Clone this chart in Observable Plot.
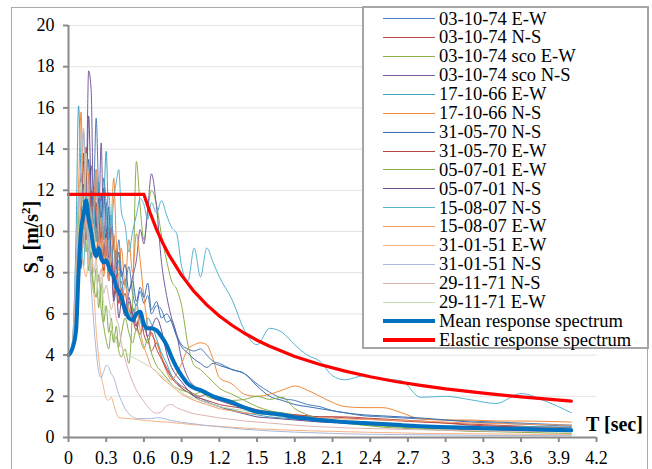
<!DOCTYPE html>
<html><head><meta charset="utf-8">
<script src="https://cdn.jsdelivr.net/npm/d3@7"></script>
<script src="https://cdn.jsdelivr.net/npm/@observablehq/plot@0.6"></script>
<style>
html,body{margin:0;padding:0;background:#fff;}
#wrap{position:relative;width:652px;height:469px;overflow:hidden;font-family:"Liberation Serif","Times New Roman",serif;}
#frame{position:absolute;left:11px;top:7px;width:637px;height:470px;border:1.5px solid #a9a9a9;box-sizing:border-box;}
#chart{position:absolute;left:0;top:0;}
#chart svg text{font-family:"Liberation Serif","Times New Roman",serif !important;}
#legend{position:absolute;left:362px;top:6px;width:287px;height:343px;border:2px solid #a6a6a6;box-sizing:border-box;background:#fff;}
.row{position:absolute;left:0;height:19px;width:280px;}
.sw{position:absolute;left:19px;top:9px;width:52px;}
.lt{position:absolute;left:75px;top:0;font-size:18.5px;line-height:19px;white-space:nowrap;color:#000;}
#ylab{position:absolute;left:31px;top:237px;transform:translate(-50%,-50%) rotate(-90deg);font-weight:bold;font-size:20px;white-space:nowrap;}
#xlab{position:absolute;left:586px;top:413px;font-weight:bold;font-size:20px;white-space:nowrap;}
sub,sup{font-size:13px;line-height:0;}
</style></head>
<body>
<div id="wrap">
  <div id="frame"></div>
  <div id="chart"></div>
  <div id="legend"></div>
  <div id="ylab">S<sub>a</sub> [m/s<sup>2</sup>]</div>
  <div id="xlab">T [sec]</div>
</div>
<script>
// ---- data ----
const periods = [0, 0.03, 0.06, 0.08, 0.10, 0.12, 0.14, 0.16, 0.18, 0.20,
  0.22, 0.24, 0.26, 0.28, 0.30, 0.32, 0.34, 0.36, 0.38, 0.40,
  0.42, 0.45, 0.48, 0.51, 0.54, 0.57, 0.60, 0.63, 0.66, 0.70,
  0.74, 0.78, 0.82, 0.86, 0.90, 0.95, 1.00, 1.05, 1.10, 1.15,
  1.20, 1.30, 1.40, 1.50, 1.60, 1.70, 1.80, 1.90, 2.00, 2.10,
  2.20, 2.35, 2.50, 2.65, 2.80, 3.00, 3.20, 3.40, 3.60, 3.80, 4.00];

const rec031074EW = [4.0, 4.3, 6.5, 9.0, 11.2, 10.1, 12.4, 11.0, 13.2, 12.0,
  15.5, 11.8, 10.4, 12.6, 11.3, 9.6, 10.8, 9.2, 8.4, 9.6,
  8.1, 7.4, 8.3, 7.0, 6.4, 7.1, 6.5, 6.9, 6.0, 6.4,
  6.2, 5.6, 5.7, 5.0, 4.5, 4.3, 4.2, 4.3, 4.0, 3.7,
  3.6, 3.3, 3.1, 2.6, 2.2, 1.9, 1.8, 1.6, 1.5, 1.3,
  1.2, 1.05, 1.0, 0.95, 0.9, 0.85, 0.8, 0.75, 0.7, 0.65, 0.6];
const rec031074NS = [4.1, 4.4, 5.8, 8.5, 12.8, 10.9, 14.1, 11.5, 9.8, 12.2,
  10.4, 9.1, 11.0, 8.6, 10.1, 8.2, 9.0, 7.5, 8.3, 7.1,
  6.4, 7.0, 5.9, 6.3, 5.5, 5.0, 5.6, 4.8, 4.2, 4.6,
  3.9, 3.4, 3.0, 2.7, 2.5, 2.3, 2.1, 2.0, 2.1, 1.9,
  1.8, 1.6, 1.5, 1.35, 1.25, 1.15, 1.1, 1.05, 1.0, 1.0,
  0.95, 0.9, 0.85, 0.8, 0.75, 0.7, 0.65, 0.6, 0.55, 0.5, 0.48];
const rec031074scoEW = [4.0, 4.2, 5.0, 7.2, 9.5, 11.8, 9.0, 10.5, 8.2, 7.4,
  6.8, 7.9, 6.2, 5.4, 4.7, 4.3, 5.2, 4.6, 4.9, 4.2,
  3.9, 4.3, 3.6, 6.5, 13.4, 11.2, 9.6, 11.0, 12.0, 11.3,
  9.8, 8.6, 7.6, 7.2, 6.4, 4.5, 3.5, 3.3, 3.0, 2.7,
  2.4, 2.1, 1.8, 1.5, 1.3, 1.2, 1.1, 1.0, 0.9, 0.8,
  0.7, 0.6, 0.55, 0.5, 0.45, 0.42, 0.4, 0.38, 0.36, 0.35, 0.34];
const rec031074scoNS = [4.0, 4.3, 5.5, 8.0, 10.6, 13.4, 12.0, 17.8, 16.9, 11.2,
  12.8, 10.5, 14.3, 9.6, 11.4, 8.7, 10.2, 7.8, 9.1, 6.9,
  7.6, 6.4, 7.0, 7.8, 8.6, 10.1, 9.4, 11.1, 12.8, 11.2,
  8.5, 6.9, 5.8, 5.0, 3.8, 2.9, 2.5, 2.3, 2.1, 1.9,
  1.8, 1.6, 1.45, 1.3, 1.2, 1.1, 1.0, 0.9, 0.85, 0.8,
  0.75, 0.65, 0.6, 0.55, 0.5, 0.45, 0.4, 0.38, 0.35, 0.32, 0.3];
const rec171066EW = [4.0, 4.6, 9.8, 16.1, 12.5, 9.4, 13.0, 10.2, 8.7, 11.8,
  9.5, 12.4, 10.1, 11.3, 13.9, 9.8, 8.4, 9.6, 7.9, 8.6,
  7.2, 7.7, 6.3, 5.8, 6.5, 5.7, 5.2, 5.8, 5.5, 4.8,
  4.1, 3.6, 3.0, 2.7, 2.4, 2.2, 2.05, 1.9, 1.75, 1.6,
  1.5, 1.35, 1.2, 1.1, 1.0, 0.95, 0.9, 0.85, 0.8, 0.75,
  0.7, 0.65, 0.62, 0.6, 0.58, 0.56, 0.55, 0.54, 0.53, 0.52, 0.5];
const rec171066NS = [4.0, 4.5, 8.2, 12.1, 15.8, 11.0, 13.1, 9.6, 12.0, 10.5,
  8.6, 11.2, 9.3, 7.8, 9.0, 8.2, 10.4, 12.6, 9.5, 8.1,
  9.2, 7.4, 9.6, 8.0, 9.9, 8.6, 6.8, 5.5, 5.0, 4.6,
  3.9, 3.2, 2.8, 3.1, 3.6, 4.3, 4.5, 4.6, 4.5, 3.8,
  2.9, 2.6, 2.1, 2.0, 2.1, 2.3, 2.5, 2.3, 2.0, 1.7,
  1.5, 1.45, 1.45, 1.2, 0.9, 0.85, 0.85, 0.8, 0.8, 0.78, 0.75];
const rec310570NS = [4.0, 4.2, 5.1, 7.4, 9.8, 12.3, 10.6, 13.5, 11.0, 12.0,
  10.2, 11.6, 9.7, 12.1, 10.0, 11.2, 8.9, 9.8, 8.2, 9.0,
  7.8, 8.4, 7.1, 7.6, 6.6, 7.3, 6.8, 7.5, 6.2, 6.6,
  5.8, 6.0, 5.6, 4.9, 4.4, 4.1, 3.8, 3.6, 3.4, 3.6,
  3.5, 3.3, 3.1, 2.5, 2.0, 1.8, 1.6, 1.5, 1.4, 1.3,
  1.2, 1.1, 1.05, 1.0, 0.95, 0.85, 0.75, 0.7, 0.65, 0.6, 0.55];
const rec310570EW = [4.0, 4.3, 6.0, 10.2, 8.4, 11.5, 9.6, 12.8, 10.3, 9.0,
  11.4, 8.8, 10.0, 8.1, 9.3, 7.6, 8.5, 6.8, 7.9, 6.5,
  7.2, 6.0, 6.6, 5.8, 5.2, 5.9, 5.0, 4.6, 5.1, 4.3,
  3.8, 3.3, 2.9, 2.6, 2.4, 2.2, 2.0, 1.9, 1.8, 1.7,
  1.6, 1.5, 1.4, 1.3, 1.2, 1.15, 1.1, 1.05, 1.0, 1.0,
  1.0, 0.95, 0.9, 0.85, 0.8, 0.7, 0.6, 0.55, 0.5, 0.45, 0.4];
const rec050701EW = [4.0, 4.4, 7.0, 10.5, 12.2, 9.4, 10.8, 8.1, 9.6, 7.0,
  8.2, 6.3, 7.5, 5.6, 6.4, 5.1, 5.8, 4.7, 5.4, 4.4,
  5.0, 5.8, 5.1, 4.6, 5.3, 4.8, 4.3, 4.8, 4.1, 3.5,
  3.2, 2.9, 2.6, 2.4, 2.3, 2.2, 2.1, 2.2, 2.0, 1.9,
  1.9, 1.8, 1.85, 2.0, 1.85, 1.95, 1.4, 1.1, 0.9, 0.8,
  0.7, 0.6, 0.5, 0.45, 0.4, 0.35, 0.3, 0.28, 0.25, 0.22, 0.2];
const rec050701NS = [4.0, 4.3, 5.2, 9.4, 8.2, 13.8, 11.4, 15.6, 12.0, 10.4,
  13.0, 9.5, 11.8, 8.8, 9.9, 7.6, 8.4, 6.6, 7.2, 5.8,
  6.5, 5.9, 6.8, 6.0, 5.4, 6.1, 5.6, 4.9, 5.3, 5.8,
  5.2, 4.1, 3.4, 3.0, 2.7, 2.3, 2.0, 1.8, 1.7, 1.6,
  1.5, 1.3, 1.15, 1.0, 0.95, 0.9, 0.85, 0.8, 0.75, 0.72,
  0.7, 0.65, 0.6, 0.55, 0.5, 0.45, 0.4, 0.38, 0.35, 0.33, 0.3];
const rec150807NS = [4.0, 4.2, 5.6, 7.8, 9.5, 8.3, 10.6, 9.0, 11.2, 9.8,
  12.8, 10.4, 11.5, 9.6, 10.8, 11.9, 10.2, 11.6, 12.4, 13.0,
  11.0, 10.3, 9.0, 10.0, 10.8, 11.6, 11.3, 10.6, 11.4, 10.9,
  11.5, 10.8, 10.2, 9.9, 8.3, 7.6, 9.2, 7.8, 9.2, 8.5,
  7.8, 6.7, 5.2, 4.5, 5.3, 5.1, 4.5, 4.0, 3.7, 3.0,
  2.8, 3.0, 2.85, 2.75, 1.95, 2.0, 1.83, 1.65, 2.13, 1.75, 1.2];
const rec150807EW = [4.0, 4.2, 6.8, 9.1, 11.4, 14.8, 10.2, 12.9, 9.4, 11.0,
  13.0, 9.1, 10.7, 8.3, 9.7, 7.6, 8.8, 9.9, 7.2, 8.0,
  6.6, 7.4, 6.1, 5.6, 6.3, 5.2, 4.4, 3.9, 3.4, 3.2,
  2.9, 2.7, 2.5, 2.3, 2.1, 1.95, 1.8, 1.7, 1.6, 1.5,
  1.4, 1.3, 1.2, 1.15, 1.1, 1.05, 1.0, 0.98, 0.95, 0.93,
  0.9, 0.88, 0.85, 0.82, 0.8, 0.75, 0.7, 0.68, 0.65, 0.62, 0.6];
const rec310151EW = [4.0, 4.5, 7.5, 10.2, 9.0, 8.3, 7.8, 8.6, 7.6, 7.1,
  5.2, 3.9, 3.0, 2.4, 1.9, 1.8, 1.95, 1.6, 1.2, 0.97,
  0.95, 0.93, 0.92, 0.9, 0.88, 0.86, 0.84, 0.82, 0.8, 0.78,
  0.76, 0.75, 0.73, 0.7, 0.68, 0.65, 0.62, 0.6, 0.58, 0.56,
  0.54, 0.5, 0.46, 0.42, 0.4, 0.37, 0.35, 0.33, 0.31, 0.3,
  0.28, 0.26, 0.24, 0.22, 0.2, 0.19, 0.18, 0.17, 0.16, 0.15, 0.15];
const rec310151NS = [4.0, 4.6, 8.5, 11.6, 13.2, 15.0, 11.8, 9.6, 7.4, 5.6,
  4.2, 3.2, 2.9, 3.2, 3.5, 3.4, 3.1, 2.9, 2.5, 2.1,
  1.8, 1.4, 1.15, 1.0, 0.92, 0.92, 0.92, 0.92, 0.92, 0.96,
  0.95, 0.88, 0.82, 0.78, 0.74, 0.7, 0.66, 0.62, 0.58, 0.55,
  0.52, 0.46, 0.4, 0.36, 0.32, 0.29, 0.26, 0.24, 0.22, 0.2,
  0.18, 0.16, 0.15, 0.14, 0.13, 0.12, 0.11, 0.1, 0.1, 0.09, 0.09];
const rec291171NS = [4.0, 4.4, 6.2, 8.8, 10.5, 9.2, 11.0, 8.6, 9.8, 8.0,
  8.6, 7.6, 8.2, 7.0, 7.4, 6.8, 6.2, 6.6, 5.8, 5.4,
  4.6, 3.8, 3.2, 2.7, 2.3, 2.0, 1.75, 1.5, 1.3, 1.18,
  1.25, 1.55, 1.6, 1.45, 1.35, 1.25, 1.15, 1.1, 1.05, 1.0,
  0.95, 0.88, 0.8, 0.75, 0.7, 0.65, 0.6, 0.55, 0.52, 0.5,
  0.47, 0.44, 0.42, 0.4, 0.38, 0.35, 0.33, 0.31, 0.3, 0.29, 0.28];
const rec291171EW = [4.0, 4.3, 6.0, 9.6, 12.4, 10.6, 13.8, 11.2, 9.0, 10.1,
  8.2, 7.0, 7.8, 6.5, 5.9, 6.2, 5.4, 4.9, 4.6, 4.5,
  4.4, 4.2, 4.0, 3.9, 3.8, 3.7, 3.6, 3.5, 3.4, 3.2,
  3.0, 2.8, 2.6, 2.4, 2.2, 2.0, 1.9, 1.8, 1.7, 1.6,
  1.5, 1.4, 1.3, 1.2, 1.1, 1.0, 0.95, 0.9, 0.85, 0.8,
  0.75, 0.7, 0.65, 0.6, 0.55, 0.5, 0.45, 0.42, 0.4, 0.38, 0.36];

const meanSpectrum = [4.0, 4.3, 5.2, 8.0, 10.1, 10.8, 11.5, 10.6, 10.0, 9.2,
  8.8, 9.2, 8.7, 8.5, 8.6, 8.3, 8.0, 7.8, 7.3, 7.1,
  6.8, 6.2, 5.8, 5.7, 6.0, 6.1, 5.5, 5.3, 5.3, 5.2,
  4.9, 4.5, 3.9, 3.4, 3.0, 2.6, 2.4, 2.3, 2.15, 2.0,
  1.9, 1.7, 1.45, 1.25, 1.18, 1.1, 0.98, 0.92, 0.85, 0.8,
  0.75, 0.7, 0.65, 0.6, 0.55, 0.5, 0.47, 0.44, 0.41, 0.38, 0.35];

const elasticT  = [0, 0.6, 0.65, 0.7, 0.75, 0.8, 0.9, 1.0, 1.1, 1.2, 1.3, 1.4, 1.5, 1.6, 1.8, 2.0, 2.2, 2.4, 2.6, 2.8, 3.0, 3.3, 3.6, 4.0];
const elasticSa = [11.8, 11.8, 10.9, 10.1, 9.44, 8.85, 7.87, 7.08, 6.44, 5.9, 5.45, 5.06, 4.72, 4.43, 3.93, 3.54, 3.22, 2.95, 2.72, 2.53, 2.36, 2.15, 1.97, 1.77];

const recordNames = ["03-10-74 E-W", "03-10-74 N-S", "03-10-74 sco E-W", "03-10-74 sco N-S",
  "17-10-66 E-W", "17-10-66 N-S", "31-05-70 N-S", "31-05-70 E-W", "05-07-01 E-W", "05-07-01 N-S",
  "15-08-07 N-S", "15-08-07 E-W", "31-01-51 E-W", "31-01-51 N-S", "29-11-71 N-S", "29-11-71 E-W"];
const recordValues = [rec031074EW, rec031074NS, rec031074scoEW, rec031074scoNS,
  rec171066EW, rec171066NS, rec310570NS, rec310570EW, rec050701EW, rec050701NS,
  rec150807NS, rec150807EW, rec310151EW, rec310151NS, rec291171NS, rec291171EW];
const recordColors = ["#4A7EBB", "#BE4B48", "#8DB04A", "#7A5EA0", "#3FA6C2", "#F08A38",
  "#3B6DB0", "#B84744", "#86AC45", "#6A4F8E", "#56B4D0", "#F29E62",
  "#F8B285", "#A8B8DA", "#DDB3B2", "#C9DBB5"];
const meanName = "Mean response spectrum";
const elasticName = "Elastic response spectrum";

const xTicks = [0, 0.3, 0.6, 0.9, 1.2, 1.5, 1.8, 2.1, 2.4, 2.7, 3, 3.3, 3.6, 3.9, 4.2];
const yTicks = [0, 2, 4, 6, 8, 10, 12, 14, 16, 18, 20];

// ---- build tables ----
const recRows = recordNames.flatMap((name, i) => periods.map((T, j) => ({name, T, Sa: recordValues[i][j]})));
const meanRows = periods.map((T, j) => ({T, Sa: meanSpectrum[j]}));
const elasticRows = elasticT.map((T, j) => ({T, Sa: elasticSa[j]}));

const serif = "'Liberation Serif','Times New Roman',serif";
const axisGray = "#8a8a8a";
const chart = Plot.plot({
  width: 652, height: 469,
  marginLeft: 68, marginRight: 56, marginTop: 25, marginBottom: 32,
  style: {fontFamily: serif, fontSize: "18px", background: "transparent", color: "#000"},
  x: {domain: [0, 4.2]},
  y: {domain: [0, 20]},
  color: {domain: recordNames, range: recordColors},
  marks: [
    Plot.gridY(yTicks.filter(d => d > 0), {stroke: "#e3e3e3", strokeOpacity: 1, strokeWidth: 1}),
    Plot.line(recRows, {x: "T", y: "Sa", z: "name", stroke: "name", strokeWidth: 1, curve: "monotone-x", clip: true}),
    Plot.line(meanRows, {x: "T", y: "Sa", stroke: "#0070C0", strokeWidth: 4, curve: "monotone-x", strokeLinejoin: "round"}),
    Plot.line(elasticRows, {x: "T", y: "Sa", stroke: "#FF0000", strokeWidth: 3.2, strokeLinejoin: "round"}),
    Plot.ruleX([0], {stroke: axisGray, strokeWidth: 2}),
    Plot.ruleY([0], {stroke: axisGray, strokeWidth: 2}),
    Plot.axisX({ticks: xTicks, tickFormat: d => String(d), tickSize: 5, tickPadding: 9, stroke: axisGray, strokeWidth: 2, label: null, fontFamily: serif, fontSize: 18}),
    Plot.axisY({ticks: yTicks, tickFormat: d => String(d), tickSize: 5, tickPadding: 9, stroke: axisGray, strokeWidth: 2, label: null, fontFamily: serif, fontSize: 18})
  ]
});
chart.setAttribute("font-family", serif);
document.getElementById("chart").appendChild(chart);

// ---- legend ----
const legend = document.getElementById("legend");
const legendItems = recordNames.map((n, i) => ({name: n, color: recordColors[i], w: 1.5}))
  .concat([{name: meanName, color: "#0070C0", w: 4}, {name: elasticName, color: "#FF0000", w: 4}]);
legendItems.forEach((it, i) => {
  const row = document.createElement("div");
  row.className = "row";
  row.style.top = (1.5 + i * 18.9) + "px";
  const sw = document.createElement("div");
  sw.className = "sw";
  sw.style.borderTop = it.w + "px solid " + it.color;
  sw.style.top = (9.5 - it.w / 2) + "px";
  const t = document.createElement("div");
  t.className = "lt";
  t.textContent = it.name;
  row.appendChild(sw); row.appendChild(t);
  legend.appendChild(row);
});
</script>
</body></html>
